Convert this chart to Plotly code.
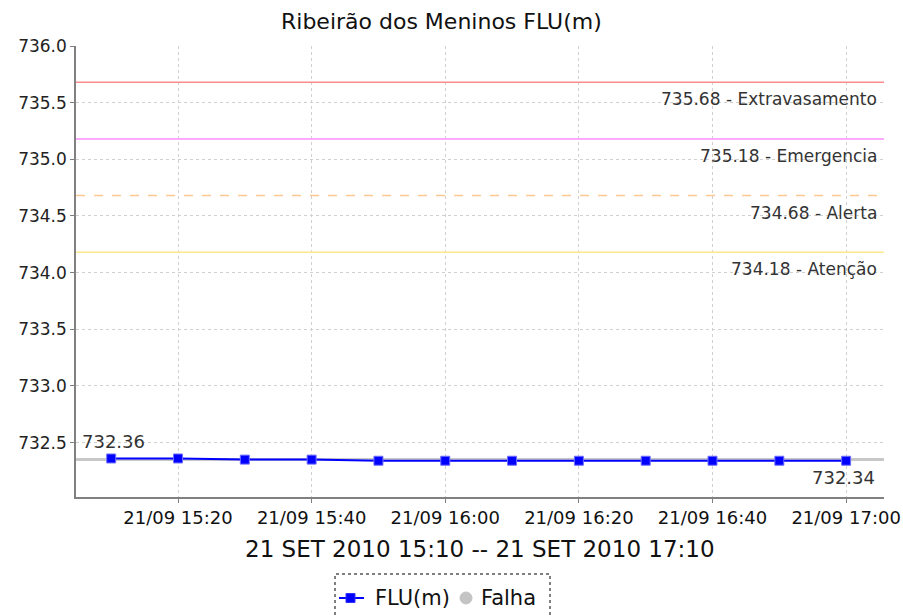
import plotly.graph_objects as go
import pandas as pd

times = pd.date_range("2010-09-21 15:10", "2010-09-21 17:00", freq="10min")
flu = [732.36, 732.36, 732.35, 732.35, 732.34, 732.34, 732.34, 732.34, 732.34, 732.34, 732.34, 732.34]
baseline = 732.35
levels = [735.68, 735.18, 734.68, 734.18]
level_names = ["Extravasamento", "Emergencia", "Alerta", "Atenção"]
level_colors = ["#ff8c8c", "#ff8cff", "#ffc890", "#ffe88c"]
level_dash = ["solid", "solid", "dash", "solid"]
tick_vals = pd.date_range("2010-09-21 15:20", "2010-09-21 17:00", freq="20min")
tick_text = [t.strftime("%d/%m %H:%M") for t in tick_vals]
y_ticks = [732.5, 733.0, 733.5, 734.0, 734.5, 735.0, 735.5, 736.0]

FONT = "DejaVu Sans"
L, R, T, B = 76, 884, 46, 497
W, H = 903, 616


def px(xp):
    return (xp - L) / (R - L)


def py(yp):
    return (B - yp) / (B - T)


fig = go.Figure()
fig.add_trace(go.Scatter(x=times, y=flu, mode="lines+markers", name="FLU(m)",
                         line=dict(color="#0000ff", width=2),
                         marker=dict(symbol="square", size=9, color="#0000ff",
                                     line=dict(color="#7070ff", width=1)),
                         showlegend=False))

shapes = []
shapes.append(dict(type="line", xref="paper", x0=0, x1=1, yref="y", y0=baseline, y1=baseline,
                   line=dict(color="#c8c8c8", width=3), layer="below"))
annotations = []
for v, n, c, d in zip(levels, level_names, level_colors, level_dash):
    shapes.append(dict(type="line", xref="paper", x0=0, x1=1, yref="y", y0=v, y1=v,
                       line=dict(color=c, width=1.5, dash=d)))
    annotations.append(dict(xref="paper", x=1, xanchor="right", xshift=-5, y=v, yref="y",
                            yanchor="middle", yshift=-17, text=f"{v:.2f} - {n}", showarrow=False,
                            font=dict(family=FONT, size=17, color="#333333")))

annotations.append(dict(x=px(80), y=flu[0], xref="paper", yref="y", xanchor="left", yanchor="middle",
                        yshift=17, text=f"{flu[0]:.2f}", showarrow=False,
                        font=dict(family=FONT, size=18, color="#333333")))
annotations.append(dict(x=px(877), y=flu[-1], xref="paper", yref="y", xanchor="right", yanchor="middle",
                        yshift=-17, text=f"{flu[-1]:.2f}", showarrow=False,
                        font=dict(family=FONT, size=18, color="#333333")))
annotations.append(dict(xref="paper", yref="paper", x=px(441), y=py(22), xanchor="center",
                        yanchor="middle", text="Ribeirão dos Meninos FLU(m)", showarrow=False,
                        font=dict(family=FONT, size=22, color="#111111")))
annotations.append(dict(xref="paper", yref="paper", x=px(480), y=py(549), xanchor="center",
                        yanchor="middle", text="21 SET 2010 15:10 -- 21 SET 2010 17:10", showarrow=False,
                        font=dict(family=FONT, size=23, color="#111111")))

# legend (drawn manually to match the compact box)
shapes.append(dict(type="rect", xref="paper", yref="paper", x0=px(335), x1=px(550), y0=py(622), y1=py(574),
                   line=dict(color="#000000", width=1, dash="dot")))
shapes.append(dict(type="line", xref="paper", yref="paper", x0=px(339), x1=px(364), y0=py(598), y1=py(598),
                   line=dict(color="#0000ff", width=2)))
shapes.append(dict(type="rect", xref="paper", yref="paper", x0=px(346), x1=px(355), y0=py(602.5), y1=py(593.5),
                   fillcolor="#0000ff", line=dict(color="#3030ff", width=1)))
shapes.append(dict(type="circle", xref="paper", yref="paper", x0=px(460), x1=px(472), y0=py(604), y1=py(592),
                   fillcolor="#c4c4c4", line=dict(color="#c4c4c4", width=1)))
annotations.append(dict(xref="paper", yref="paper", x=px(373), y=py(598), xanchor="left", yanchor="middle",
                        text="FLU(m)", showarrow=False, font=dict(family=FONT, size=21, color="#111111")))
annotations.append(dict(xref="paper", yref="paper", x=px(479), y=py(598), xanchor="left", yanchor="middle",
                        text="Falha", showarrow=False, font=dict(family=FONT, size=21, color="#111111")))

fig.update_layout(
    width=W, height=H,
    margin=dict(l=L, r=W - R, t=T, b=H - B, autoexpand=False),
    paper_bgcolor="white", plot_bgcolor="white",
    font=dict(family=FONT, size=13, color="#222222"),
    shapes=shapes, annotations=annotations,
    showlegend=False,
    xaxis=dict(range=[pd.Timestamp("2010-09-21 15:04:44"), pd.Timestamp("2010-09-21 17:05:40")],
               tickmode="array", tickvals=tick_vals, ticktext=tick_text,
               showgrid=True, gridcolor="#d0d0d0", griddash="3px,3px", gridwidth=1,
               showline=True, linecolor="#808080", linewidth=1.5,
               ticks="outside", ticklen=4, tickcolor="#808080",
               tickfont=dict(family=FONT, size=18, color="#111111"), zeroline=False, automargin=False),
    yaxis=dict(range=[732.02, 736.0], tickmode="array",
               tickvals=y_ticks, ticktext=[f"{v:.1f}" for v in y_ticks],
               showgrid=True, gridcolor="#d0d0d0", griddash="3px,3px", gridwidth=1,
               showline=True, linecolor="#808080", linewidth=1.5,
               ticks="outside", ticklen=4, tickcolor="#808080",
               tickfont=dict(family=FONT, size=17, color="#222222"), zeroline=False, automargin=False),
)

fig.write_html("out.html", config={"displayModeBar": False},
               post_script="document.body.style.margin='0';document.body.style.overflow='hidden';")
